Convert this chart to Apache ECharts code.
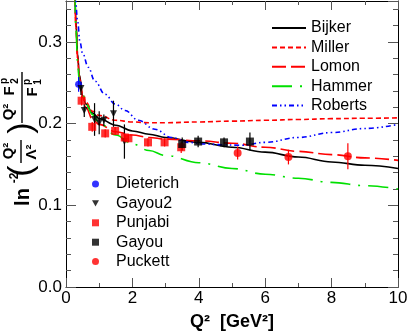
<!DOCTYPE html>
<html>
<head>
<meta charset="utf-8">
<script src="https://cdn.jsdelivr.net/npm/echarts@6/dist/echarts.min.js"></script>
<style>
html,body{margin:0;padding:0;background:#fff;}
#main{width:407px;height:332px;}
</style>
</head>
<body>
<div id="main"></div>
<script>
// theory curves
var curveQ2 = [0.27,0.3,0.35,0.4,0.5,0.6,0.8,1,1.5,2,2.5,3,4,5,6,7,8,9,10];
var bijker  = [0.36,0.325,0.285,0.26,0.234,0.224,0.213,0.206,0.198,0.191,0.187,0.183,0.177,0.171,0.165,0.159,0.153,0.149,0.145];
var miller  = [0.36,0.318,0.28,0.258,0.236,0.226,0.215,0.21,0.204,0.202,0.201,0.201,0.202,0.203,0.204,0.205,0.206,0.2065,0.207];
var lomon   = [0.36,0.318,0.28,0.256,0.232,0.22,0.205,0.199,0.19,0.186,0.183,0.181,0.179,0.176,0.171,0.166,0.162,0.158,0.155];
var hammer  = [0.36,0.315,0.275,0.252,0.236,0.224,0.211,0.201,0.186,0.175,0.167,0.161,0.152,0.145,0.138,0.133,0.128,0.124,0.12];
var robertsQ2 = [0.29,0.35,0.42,0.5,0.67,0.87,1.17,1.48,1.78,2.18,2.68,3.18,3.68,4.2,4.7,5.3,6,7,8,9,10];
var roberts   = [0.36,0.325,0.3,0.286,0.269,0.252,0.236,0.224,0.216,0.204,0.193,0.183,0.177,0.175,0.174,0.1735,0.177,0.183,0.189,0.194,0.199];

// data points: Q2, ratio, error
var dieterichQ2 = [0.38];
var dieterichR  = [0.248];
var dieterichE  = [0.009];
var gayou2Q2 = [0.45,0.55,0.86,1.0,1.14,1.43,1.76];
var gayou2R  = [0.243,0.216,0.205,0.201,0.204,0.212,0.178];
var gayou2E  = [0.008,0.008,0.02,0.014,0.007,0.016,0.021];
var punjabiQ2 = [0.47,0.79,1.18,1.48,1.77,1.88,2.47,2.97,3.47];
var punjabiR  = [0.228,0.196,0.188,0.191,0.183,0.182,0.177,0.177,0.171];
var punjabiE  = [0.006,0.006,0.005,0.005,0.005,0.005,0.005,0.005,0.007];
var gayouQ2 = [3.5,3.98,4.76,5.54];
var gayouR  = [0.175,0.178,0.177,0.178];
var gayouE  = [0.008,0.007,0.006,0.011];
var puckettQ2 = [5.17,6.7,8.49];
var puckettR  = [0.164,0.159,0.160];
var puckettE  = [0.008,0.009,0.016];

var xTicks = [0,2,4,6,8,10];

var FONT = 'Liberation Sans';

function pairs(xs, ys){
	var out = [];
	for(var i=0;i<xs.length;i++){
		out.push([xs[i], ys[i]]);
	}
	return out;
}

function lineSeries(name, xs, ys, color, dash){
	return {
		name: name,
		type: 'line',
		smooth: 0.4,
		smoothMonotone: 'x',
		showSymbol: false,
		symbol: 'none',
		z: 2,
		lineStyle: {color: color, width: 1.6, type: dash},
		itemStyle: {color: color},
		data: pairs(xs, ys)
	};
}

function pointSeries(name, xs, ys, color, symbol, size){
	return {
		name: name,
		type: 'scatter',
		symbol: symbol,
		symbolSize: size,
		z: 5,
		itemStyle: {color: color},
		data: pairs(xs, ys)
	};
}

function errSeries(xs, ys, es, color){
	var d = [];
	for(var i=0;i<xs.length;i++){
		d.push([xs[i], ys[i]-es[i], ys[i]+es[i]]);
	}
	return {
		type: 'custom',
		z: 4,
		encode: {x: 0, y: [1,2]},
		renderItem: function(params, api){
			var a = api.coord([api.value(0), api.value(1)]);
			var b = api.coord([api.value(0), api.value(2)]);
			return {
				type: 'line',
				shape: {x1: a[0], y1: a[1], x2: b[0], y2: b[1]},
				style: {stroke: color, lineWidth: 1.2}
			};
		},
		data: d
	};
}

function rtext(t, x, y, size, bold){
	return {
		type: 'text', x: x, y: y, rotation: Math.PI/2,
		style: {text: t, fontSize: size, fontWeight: bold ? 'bold' : 'normal', fontFamily: FONT,
			fill: '#000', textAlign: 'center', textVerticalAlign: 'middle'}
	};
}

function vbar(x, y1, y2){
	return {type: 'line', shape: {x1: x, y1: y1, x2: x, y2: y2}, style: {stroke: '#000', lineWidth: 1.4}};
}

var yFmt = function(v){
	var r = Math.round(v*10);
	return Math.abs(v*10 - r) < 1e-6 ? (r/10).toFixed(1) : '';
};

function yAx(pos, interval, len, showLine, showLabel){
	return {
		type: 'value', position: pos, min: 0, max: 0.35, interval: interval, offset: 0,
		axisLine: {show: showLine, onZero: false, lineStyle: {color: '#000', width: 1}},
		axisTick: {show: true, inside: true, length: len, lineStyle: {color: '#555'}},
		axisLabel: {show: showLabel, formatter: yFmt, margin: 4, color: '#000', fontSize: 17, fontFamily: FONT},
		splitLine: {show: false}
	};
}

function xAx(pos, showLabel){
	return {
		type: 'value', position: pos, min: 0, max: 10, interval: 2,
		axisLine: {show: true, onZero: false, lineStyle: {color: '#000', width: 1}},
		axisTick: {show: true, inside: true, length: 9, lineStyle: {color: '#555'}},
		minorTick: {show: true, splitNumber: 2, length: 4, lineStyle: {color: '#555'}},
		axisLabel: {show: showLabel, margin: 3, color: '#000', fontSize: 17, fontFamily: FONT,
			formatter: function(v){ return xTicks.indexOf(v) >= 0 ? String(v) : ''; }},
		splitLine: {show: false},
		minorSplitLine: {show: false}
	};
}

var bottomX = xAx('bottom', true);
bottomX.name = 'Q\u00b2  [GeV\u00b2]';
bottomX.nameLocation = 'middle';
bottomX.nameGap = 26;
bottomX.nameTextStyle = {fontSize: 18, fontWeight: 'bold', fontFamily: FONT, color: '#000'};

var chart = echarts.init(document.getElementById('main'), null, {renderer: 'canvas'});
var option = {
	animation: false,
	backgroundColor: '#fff',
	grid: {left: 66, right: 9, top: 1, bottom: 45, containLabel: false, outerBoundsMode: 'none'},
	xAxis: [bottomX, xAx('top', false)],
	yAxis: [
		yAx('left', 0.1, 10, true, true),
		yAx('left', 0.02, 5, false, false),
		yAx('right', 0.1, 10, true, false),
		yAx('right', 0.02, 5, false, false)
	],
	legend: [
		{
			data: ['Bijker','Miller','Lomon','Hammer','Roberts'],
			orient: 'vertical', left: 266, top: 15,
			itemWidth: 34, itemHeight: 10, itemGap: 3.4,
			itemStyle: {opacity: 0},
			textStyle: {fontSize: 16, fontFamily: FONT, color: '#000'}
		},
		{
			data: ['Dieterich','Gayou2','Punjabi','Gayou','Puckett'],
			orient: 'vertical', left: 87, top: 171,
			itemWidth: 7, itemHeight: 7, itemGap: 3.4,
			textStyle: {fontSize: 16, fontFamily: FONT, color: '#000', padding: [0, 0, 0, 12]}
		}
	],
	graphic: [
		rtext('ln', 23, 197, 20, true),
		rtext('-2', 15, 178, 12, true),
		rtext('(', 22, 171, 34, false),
		rtext('Q\u00b2', 9, 151, 15, true),
		vbar(21, 140, 163),
		rtext('\u039b\u00b2', 32, 152, 15, true),
		rtext(')', 22, 128, 34, false),
		rtext('Q\u00b2', 9, 112, 15, true),
		rtext('F', 10, 91, 15, true),
		rtext('p', 4, 81, 10, true),
		rtext('2', 15, 81, 10, true),
		vbar(22, 72, 123),
		rtext('F', 33, 92, 15, true),
		rtext('p', 27, 82, 10, true),
		rtext('1', 38, 82, 10, true)
	],
	series: [
		lineSeries('Bijker', curveQ2, bijker, '#000000', 'solid'),
		lineSeries('Miller', curveQ2, miller, '#ff0000', [5, 3]),
		lineSeries('Lomon', curveQ2, lomon, '#ff0000', [14, 5]),
		lineSeries('Hammer', curveQ2, hammer, '#00e000', [20, 8, 2, 8]),
		lineSeries('Roberts', robertsQ2, roberts, '#0000ff', [5, 3, 1.5, 3, 1.5, 3]),
		errSeries(dieterichQ2, dieterichR, dieterichE, '#0000ff'),
		errSeries(gayou2Q2, gayou2R, gayou2E, '#000000'),
		errSeries(punjabiQ2, punjabiR, punjabiE, '#ff0000'),
		errSeries(gayouQ2, gayouR, gayouE, '#000000'),
		errSeries(puckettQ2, puckettR, puckettE, '#ff0000'),
		pointSeries('Dieterich', dieterichQ2, dieterichR, '#0000ff', 'circle', 7),
		pointSeries('Gayou2', gayou2Q2, gayou2R, '#000000', 'path://M0,0 L10,0 L5,9 Z', 7),
		pointSeries('Punjabi', punjabiQ2, punjabiR, '#ff0000', 'rect', 8),
		pointSeries('Gayou', gayouQ2, gayouR, '#000000', 'rect', 8),
		pointSeries('Puckett', puckettQ2, puckettR, '#ff0000', 'circle', 8)
	]
};
chart.setOption(option);
</script>
</body>
</html>
